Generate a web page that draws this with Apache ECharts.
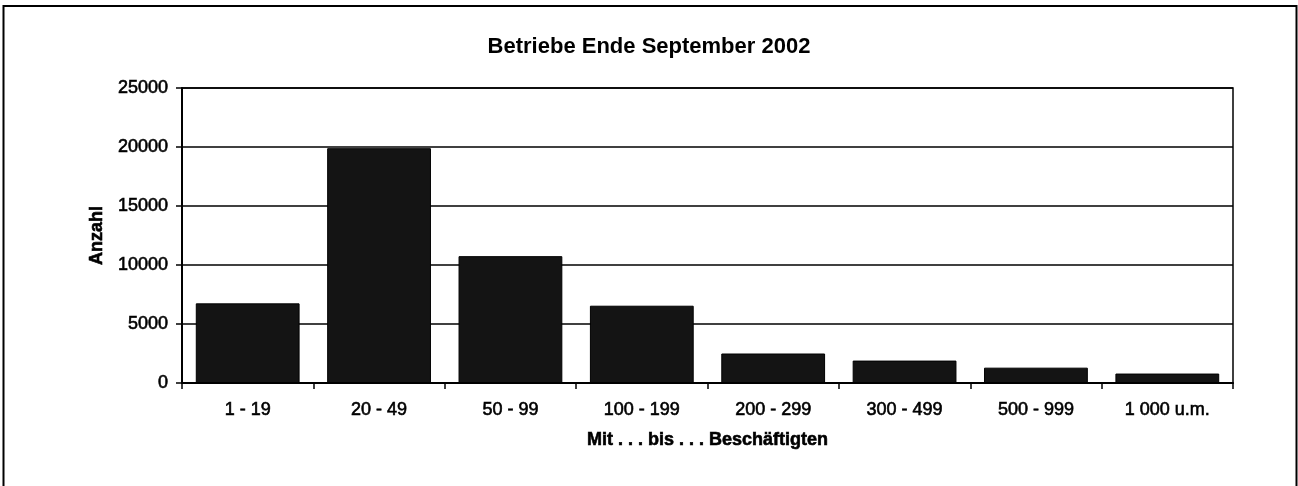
<!DOCTYPE html>
<html>
<head>
<meta charset="utf-8">
<script src="https://cdn.jsdelivr.net/npm/echarts@6/dist/echarts.min.js"></script>
<style>
html,body{margin:0;padding:0;background:#fff;}
#c{width:1298px;height:486px;}
</style>
</head>
<body>
<div id="c"></div>
<script>
const categories = ['1 - 19', '20 - 49', '50 - 99', '100 - 199', '200 - 299', '300 - 499', '500 - 999', '1 000 u.m.'];
const betriebe = [6750, 19900, 10750, 6550, 2500, 1900, 1300, 800];
const titleText = 'Betriebe Ende September 2002';
const yName = 'Anzahl';
const xName = 'Mit . . . bis . . . Beschäftigten';

const chart = echarts.init(document.getElementById('c'), null, {renderer: 'canvas'});
const font = 'Liberation Sans, Arial, Helvetica, sans-serif';
const heavy = {textBorderColor: '#000', textBorderWidth: 0.6};
chart.setOption({
  animation: false,
  backgroundColor: '#fff',
  title: {
    text: titleText,
    left: 'center',
    top: 31,
    textStyle: {fontFamily: font, fontSize: 22, fontWeight: 'bold', color: '#000'}
  },
  graphic: [{
    type: 'rect',
    shape: {x: 3.5, y: 6, width: 1293, height: 500},
    style: {fill: 'none', stroke: '#000', lineWidth: 2},
    silent: true
  }],
  grid: {
    left: 182, right: 65, top: 88, bottom: 103,
    show: true, borderColor: '#000', borderWidth: 1.5, backgroundColor: 'transparent'
  },
  xAxis: {
    type: 'category',
    data: categories,
    name: xName,
    nameLocation: 'middle',
    nameGap: 48,
    nameTextStyle: Object.assign({fontFamily: font, fontSize: 18, fontWeight: 'bold', color: '#000'}, heavy),
    axisLine: {lineStyle: {color: '#000', width: 2}},
    axisTick: {show: true, length: 6, lineStyle: {color: '#000', width: 1.5}},
    axisLabel: Object.assign({fontFamily: font, fontSize: 18, color: '#000', margin: 18}, heavy)
  },
  yAxis: {
    type: 'value',
    min: 0, max: 25000, interval: 5000,
    name: yName,
    nameLocation: 'middle',
    nameGap: 73,
    nameTextStyle: Object.assign({fontFamily: font, fontSize: 18, fontWeight: 'bold', color: '#000'}, heavy),
    axisLine: {show: true, lineStyle: {color: '#000', width: 2}},
    axisTick: {show: true, length: 6, lineStyle: {color: '#000', width: 1.5}},
    axisLabel: Object.assign({fontFamily: font, fontSize: 18, color: '#000', margin: 14,
      formatter: function (v) { return String(v); }}, heavy),
    splitLine: {show: true, lineStyle: {color: '#000', width: 1.5}}
  },
  series: [{
    type: 'bar',
    data: betriebe,
    barCategoryGap: '21%',
    itemStyle: {color: '#141414', borderColor: '#000', borderWidth: 1}
  }]
});
</script>
</body>
</html>
